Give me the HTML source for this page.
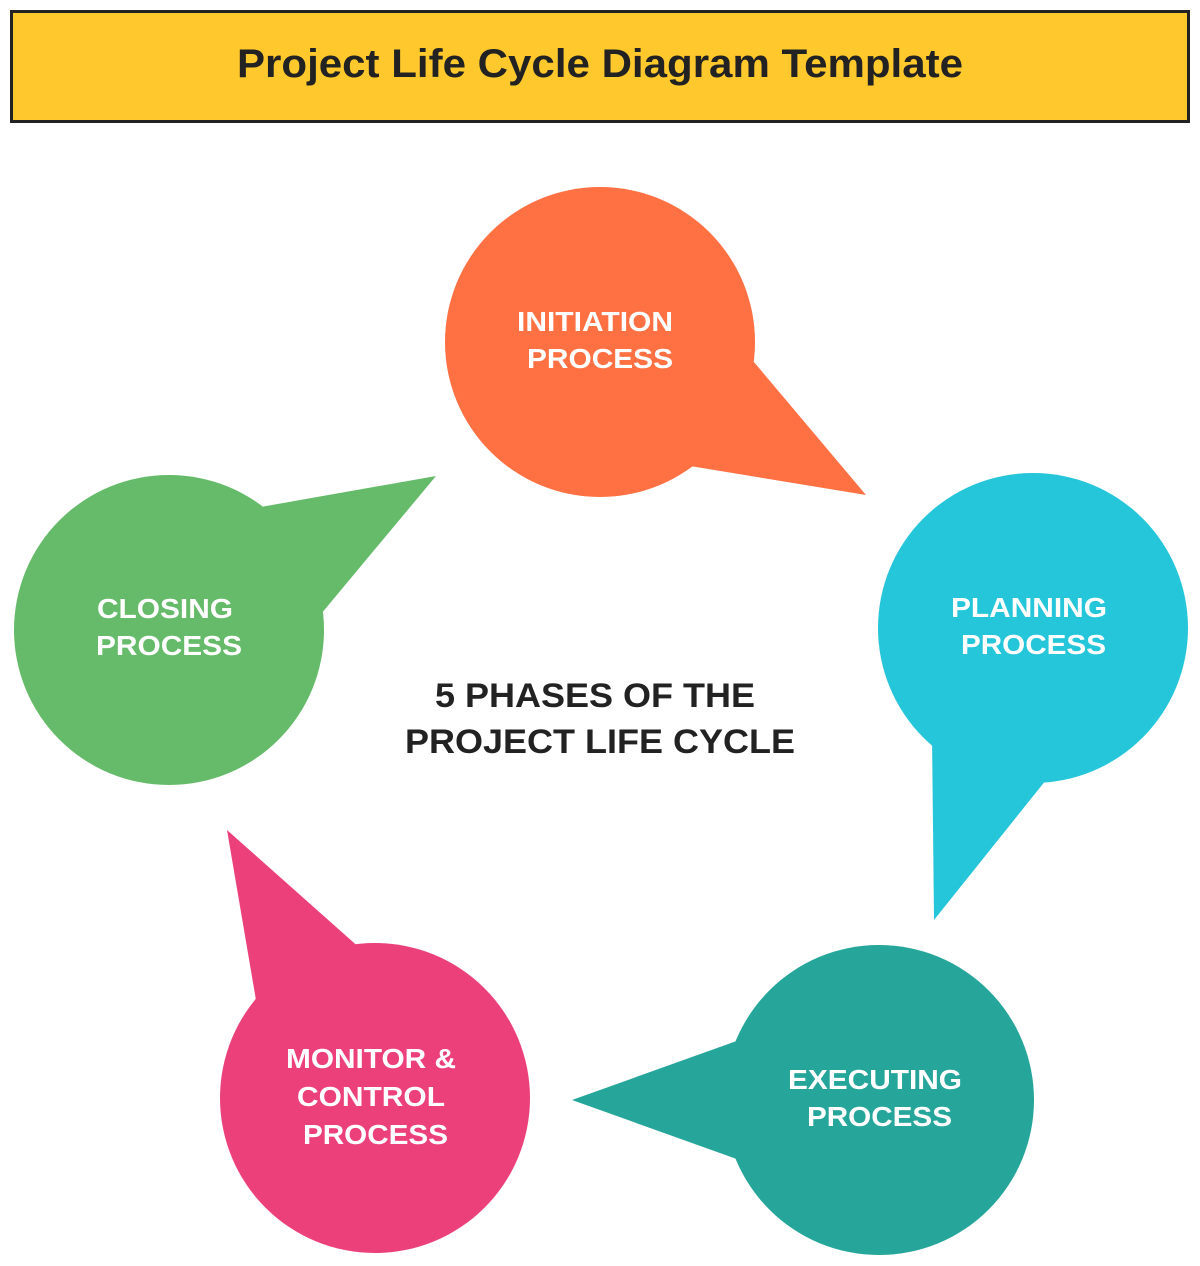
<!DOCTYPE html>
<html><head><meta charset="utf-8"><style>
html,body{margin:0;padding:0;background:#fff;width:1200px;height:1266px;overflow:hidden}
svg{display:block}
text{font-family:"Liberation Sans",Arial,sans-serif;font-weight:bold}
</style></head><body>
<svg width="1200" height="1266" viewBox="0 0 1200 1266" xmlns="http://www.w3.org/2000/svg">
<rect x="11.5" y="11.5" width="1177" height="110" fill="#FFC82C" stroke="#222" stroke-width="3"/>
<text x="237" y="77" font-size="40" textLength="726" lengthAdjust="spacingAndGlyphs" fill="#222">Project Life Cycle Diagram Template</text>

<g fill="#FF7043">
<circle cx="600" cy="342" r="155"/>
<polygon points="748,355 866,495 690,466"/>
</g>
<g fill="#26C6DA">
<circle cx="1033" cy="628" r="155"/>
<polygon points="932,735 934,920 1050,775"/>
</g>
<g fill="#26A69A">
<circle cx="879" cy="1100" r="155"/>
<polygon points="745,1038 572,1100 745,1162"/>
</g>
<g fill="#EC407A">
<circle cx="375" cy="1098" r="155"/>
<polygon points="258,1012 227,830 362,950"/>
</g>
<g fill="#66BB6A">
<circle cx="169" cy="630" r="155"/>
<polygon points="255,508 436,476 316,620"/>
</g>

<g fill="#fff" font-size="28" lengthAdjust="spacingAndGlyphs">
<text x="517" y="331" textLength="156" lengthAdjust="spacingAndGlyphs">INITIATION</text>
<text x="527" y="368" textLength="146" lengthAdjust="spacingAndGlyphs">PROCESS</text>
<text x="951" y="617" textLength="156" lengthAdjust="spacingAndGlyphs">PLANNING</text>
<text x="961" y="654" textLength="145" lengthAdjust="spacingAndGlyphs">PROCESS</text>
<text x="788" y="1089" textLength="174" lengthAdjust="spacingAndGlyphs">EXECUTING</text>
<text x="807" y="1126" textLength="145" lengthAdjust="spacingAndGlyphs">PROCESS</text>
<text x="286" y="1068" textLength="170" lengthAdjust="spacingAndGlyphs">MONITOR &amp;</text>
<text x="297" y="1106" textLength="148" lengthAdjust="spacingAndGlyphs">CONTROL</text>
<text x="303" y="1144" textLength="145" lengthAdjust="spacingAndGlyphs">PROCESS</text>
<text x="97" y="618" textLength="136" lengthAdjust="spacingAndGlyphs">CLOSING</text>
<text x="96" y="655" textLength="146" lengthAdjust="spacingAndGlyphs">PROCESS</text>
</g>
<g fill="#222" font-size="34">
<text x="435" y="707" textLength="320" lengthAdjust="spacingAndGlyphs">5 PHASES OF THE</text>
<text x="405" y="753" textLength="390" lengthAdjust="spacingAndGlyphs">PROJECT LIFE CYCLE</text>
</g>
</svg>
</body></html>
